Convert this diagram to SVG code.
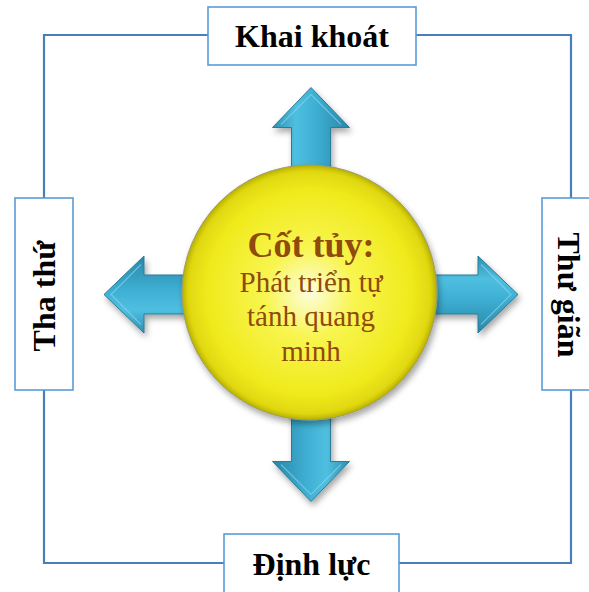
<svg xmlns="http://www.w3.org/2000/svg" width="589" height="592" viewBox="0 0 589 592">
  <style>
    .frame { fill: none; stroke: #4a7ebb; stroke-width: 2.2; }
    .box { fill: #ffffff; stroke: #5b9bd5; stroke-width: 1.6; }
    .label { font-family: "Liberation Serif", "Times New Roman", serif; font-weight: bold; font-size: 32px; fill: #000000; text-anchor: middle; }
    .core { font-family: "Liberation Serif", "Times New Roman", serif; fill: #8f4a0c; text-anchor: middle; }
  </style>
  <defs>
    <linearGradient id="arrowFill" x1="0" y1="0" x2="1" y2="0">
      <stop offset="0" stop-color="#2f8fb0"/>
      <stop offset="0.3" stop-color="#4fbfe0"/>
      <stop offset="0.55" stop-color="#3eb0d4"/>
      <stop offset="1" stop-color="#2a86a6"/>
    </linearGradient>
    <radialGradient id="sunFill" cx="0.5" cy="0.5" r="0.5">
      <stop offset="0" stop-color="#fdfde0"/>
      <stop offset="0.35" stop-color="#f8f550"/>
      <stop offset="0.8" stop-color="#f0ea1c"/>
      <stop offset="0.95" stop-color="#e0d810"/>
      <stop offset="1" stop-color="#b8b000"/>
    </radialGradient>
    <filter id="shadow" x="-20%" y="-20%" width="140%" height="140%">
      <feDropShadow dx="2" dy="4" stdDeviation="3" flood-color="#000" flood-opacity="0.35"/>
    </filter>
    <!-- arrow pointing up, base at origin, tip 207 above -->
    <g id="arrow">
      <path d="M -19.5 0 L -19.5 -167 L -38.5 -167 L 0 -207 L 38.5 -167 L 19.5 -167 L 19.5 0 Z" fill="url(#arrowFill)" stroke="#2a7b98" stroke-width="1"/>
      <path d="M -30 -170 L 0 -200 L 30 -170" fill="none" stroke="#8ad8f0" stroke-width="1.2" opacity="0.6"/>
    </g>
  </defs>

  <!-- connectors: frame linking the four boxes -->
  <g id="connectors">
    <polyline class="frame" points="208,35 44,35 44,198"/>
    <polyline class="frame" points="416,35 571,35 571,198"/>
    <polyline class="frame" points="44,390 44,563 224,563"/>
    <polyline class="frame" points="571,390 571,563 399,563"/>
  </g>

  <!-- arrows radiating from the centre -->
  <g id="arrows">
    <g filter="url(#shadow)"><use href="#arrow" transform="translate(311,294.5)"/></g>
    <g filter="url(#shadow)"><use href="#arrow" transform="translate(311,294.5) rotate(180)"/></g>
    <g filter="url(#shadow)"><use href="#arrow" transform="translate(311,294.5) rotate(-90)"/></g>
    <g filter="url(#shadow)"><use href="#arrow" transform="translate(311,294.5) rotate(90)"/></g>
  </g>

  <g id="core">
    <circle cx="309.5" cy="292.5" r="127.5" fill="url(#sunFill)" stroke="#9c9a70" stroke-width="1" filter="url(#shadow)"/>
    <text class="core" x="311" y="257" font-size="36" font-weight="bold">Cốt tủy:</text>
    <text class="core" x="311" y="292" font-size="29">Phát triển tự</text>
    <text class="core" x="311" y="326" font-size="29">tánh quang</text>
    <text class="core" x="311" y="361" font-size="29">minh</text>
  </g>

  <g id="khai-khoat">
    <rect class="box" x="208" y="7" width="208" height="58"/>
    <text class="label" x="312" y="47">Khai khoát</text>
  </g>

  <g id="dinh-luc">
    <rect class="box" x="224" y="534" width="175" height="64"/>
    <text class="label" x="311.5" y="575">Định lực</text>
  </g>

  <g id="tha-thu">
    <rect class="box" x="15" y="198" width="58" height="192"/>
    <text class="label" transform="translate(55,296) rotate(-90)">Tha thứ</text>
  </g>

  <g id="thu-gian">
    <rect class="box" x="542" y="198" width="60" height="192"/>
    <text class="label" transform="translate(558,295) rotate(90)">Thư giãn</text>
  </g>
</svg>
